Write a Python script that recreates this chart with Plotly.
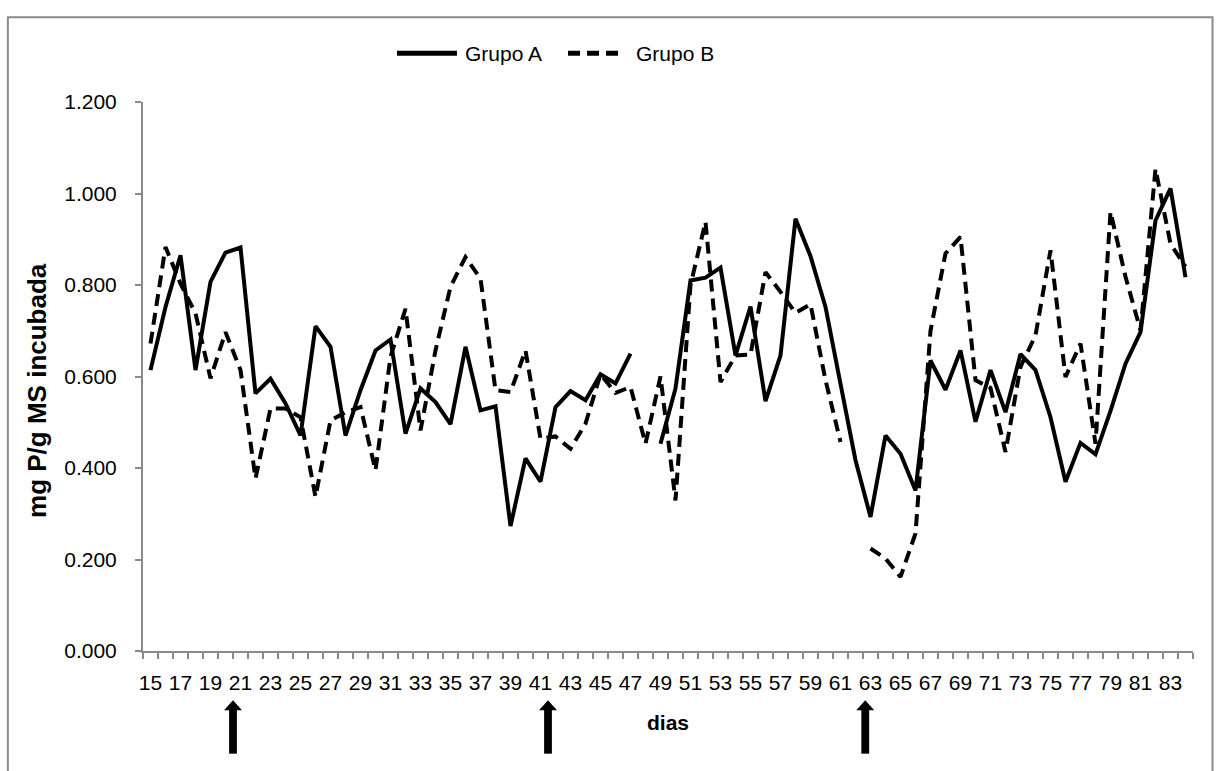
import plotly.graph_objects as go

days = list(range(15, 85))
grupo_a = [0.614, 0.752, 0.865, 0.614, 0.807, 0.871, 0.882, 0.563, 0.595, 0.541,
           0.471, 0.710, 0.665, 0.471, 0.570, 0.657, 0.681, 0.475, 0.574, 0.544,
           0.496, 0.665, 0.526, 0.535, 0.273, 0.421, 0.370, 0.533, 0.568, 0.548,
           0.605, 0.585, 0.650, None, 0.453, 0.574, 0.810, 0.816, 0.838, 0.646,
           0.753, 0.546, 0.646, 0.945, 0.863, 0.752, 0.584, 0.417, 0.293, 0.471,
           0.431, 0.351, 0.635, 0.571, 0.657, 0.501, 0.614, 0.522, 0.649, 0.614,
           0.511, 0.370, 0.455, 0.430, 0.525, 0.628, 0.697, 0.941, 1.011, 0.817]
grupo_b = [0.672, 0.883, 0.803, 0.738, 0.596, 0.697, 0.614, 0.377, 0.530, 0.530,
           0.511, 0.337, 0.504, 0.522, 0.533, 0.395, 0.643, 0.748, 0.482, 0.657,
           0.796, 0.861, 0.814, 0.570, 0.566, 0.657, 0.464, 0.469, 0.442, 0.497,
           0.605, 0.564, 0.577, 0.453, 0.600, 0.329, 0.800, 0.938, 0.588, 0.646,
           0.648, 0.828, 0.785, 0.739, 0.758, 0.592, 0.457, None, 0.224, 0.202,
           0.162, 0.257, 0.700, 0.869, 0.905, 0.592, 0.575, 0.435, 0.621, 0.690,
           0.876, 0.599, 0.672, 0.453, 0.960, 0.818, 0.701, 1.054, 0.890, 0.840]
tick_days = list(range(15, 84, 2))
y_ticks = [0, 0.2, 0.4, 0.6, 0.8, 1.0, 1.2]
arrow_days = [20.5, 41.5, 62.65]
series_names = ["Grupo A", "Grupo B"]

FONT = "Liberation Sans, Arial, sans-serif"
GRAY = "#8a8a8a"
DASH = "12px,7px"

fig = go.Figure()
fig.add_trace(go.Scatter(x=days, y=grupo_a, mode="lines", name=series_names[0],
                         line=dict(color="black", width=4), connectgaps=False))
fig.add_trace(go.Scatter(x=days, y=grupo_b, mode="lines", name=series_names[1],
                         line=dict(color="black", width=4, dash=DASH),
                         connectgaps=False))

shapes = []
# outer frame
shapes.append(dict(type="rect", xref="paper", yref="paper",
                   x0=-0.1287, x1=1.0186, y0=-0.24, y1=1.1543,
                   line=dict(color=GRAY, width=2), fillcolor="rgba(0,0,0,0)", layer="below"))
# arrows under the x axis
for d in arrow_days:
    shapes.append(dict(type="rect", xref="x", yref="paper",
                       x0=d - 0.26, x1=d + 0.26, y0=-0.187, y1=-0.105,
                       line=dict(width=0), fillcolor="black"))
    shapes.append(dict(type="path", xref="x", yref="paper",
                       path=f"M {d-0.6} -0.108 L {d+0.6} -0.108 L {d} -0.0895 Z",
                       line=dict(width=0), fillcolor="black"))

# legend (drawn by hand to match the original spacing)
LEG_Y = 1.0887
shapes.append(dict(type="line", xref="paper", yref="paper", x0=0.2419, x1=0.299,
                   y0=LEG_Y, y1=LEG_Y, line=dict(color="black", width=5)))
shapes.append(dict(type="line", xref="paper", yref="paper", x0=0.4048, x1=0.4562,
                   y0=LEG_Y, y1=LEG_Y, line=dict(color="black", width=5, dash=DASH)))
annotations = [
    dict(text=series_names[0], xref="paper", yref="paper", x=0.3048, y=LEG_Y,
         xanchor="left", yanchor="middle", showarrow=False, font=dict(size=21)),
    dict(text=series_names[1], xref="paper", yref="paper", x=0.4676, y=LEG_Y,
         xanchor="left", yanchor="middle", showarrow=False, font=dict(size=21)),
    dict(text="<b>mg P/g MS incubada</b>", xref="paper", yref="paper",
         x=-0.101, y=0.4754, xanchor="center", yanchor="middle", textangle=-90,
         showarrow=False, font=dict(size=26)),
]

fig.update_layout(
    width=1217, height=771,
    margin=dict(l=143, r=24, t=102, b=120),
    paper_bgcolor="white", plot_bgcolor="white",
    font=dict(family=FONT, size=21, color="black"),
    showlegend=False,
    shapes=shapes, annotations=annotations,
    xaxis=dict(range=[14.5, 84.5], tickmode="array", tickvals=tick_days,
               ticktext=[str(t) for t in tick_days], ticks="",
               showgrid=False, zeroline=False, showline=True,
               linecolor=GRAY, linewidth=2, ticklabelstandoff=12,
               minor=dict(tickmode="array", tickvals=[x + 0.5 for x in range(14, 85)],
                          ticks="outside", ticklen=6, tickcolor=GRAY, tickwidth=1.5,
                          showgrid=False),
               title=dict(text="<b>dias</b>", font=dict(size=21), standoff=22)),
    yaxis=dict(range=[0, 1.2], tickmode="array", tickvals=y_ticks,
               ticktext=[f"{v:.3f}" for v in y_ticks], ticks="outside",
               ticklen=6, tickcolor=GRAY, tickwidth=1.5,
               showgrid=False, zeroline=False, showline=True,
               linecolor=GRAY, linewidth=2, ticklabelstandoff=14),
)

fig.write_html("out.html")
